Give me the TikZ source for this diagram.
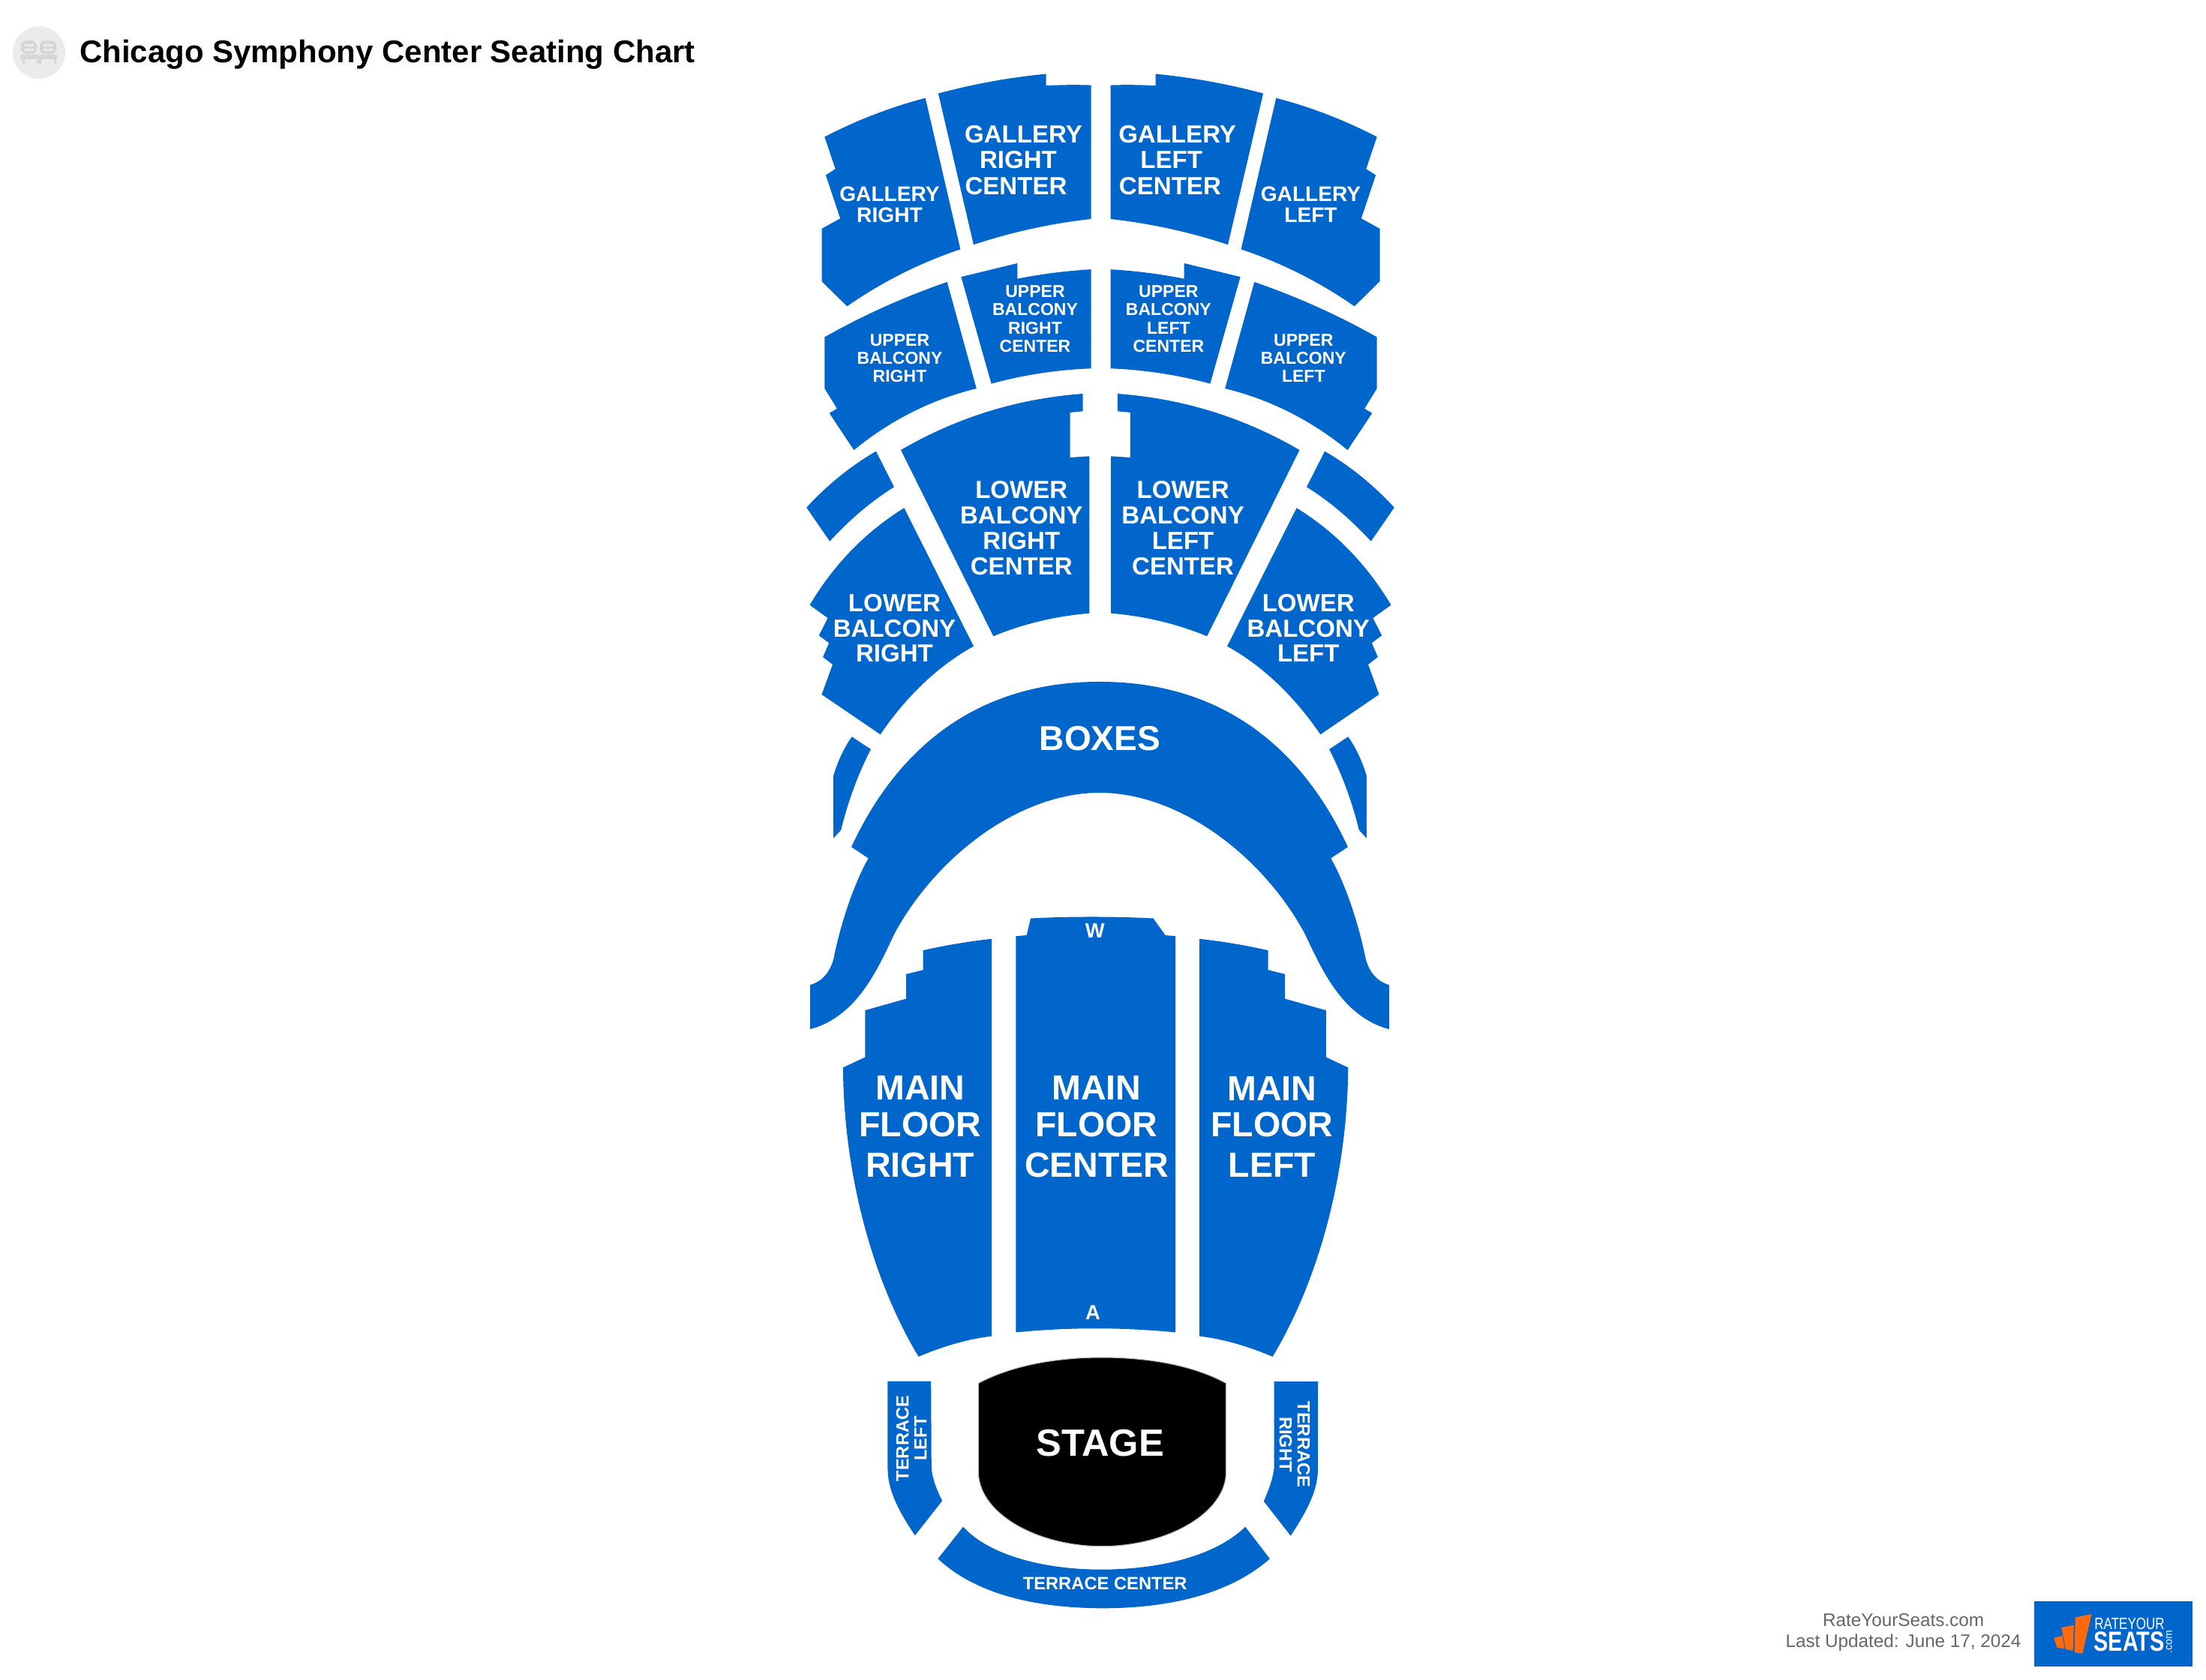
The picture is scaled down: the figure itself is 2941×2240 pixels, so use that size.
\documentclass[tikz,border=0pt]{standalone}
\usepackage{fontspec}
\setmainfont{Liberation Sans}
\definecolor{seatblue}{HTML}{0066CC}
\definecolor{logoorange}{HTML}{FF6A0D}
\tikzset{
	seat/.style={fill=seatblue},
	lab/.style={text=white,font=\bfseries,align=center,inner sep=0},
	galbig/.style={lab,font=\fontsize{9.4}{9.7}\selectfont\bfseries},
	galsmall/.style={lab,font=\fontsize{8}{8.1}\selectfont\bfseries},
	upper/.style={lab,font=\fontsize{6.55}{6.85}\selectfont\bfseries},
	lower/.style={lab,font=\fontsize{9.4}{9.6}\selectfont\bfseries},
	mainfl/.style={lab,font=\fontsize{13.25}{13.7}\selectfont\bfseries},
	terr/.style={lab,font=\fontsize{6.75}{6.85}\selectfont\bfseries},
	row/.style={lab,font=\fontsize{7.8}{8}\selectfont\bfseries},
}
% one side of the hall and its mirror image
\newcommand{\twin}[2]{\fill[seat] #2;
	\begin{scope}[shift={(#1,0)},xscale=-1]\fill[seat] #2;\end{scope}}
\begin{document}
\begin{tikzpicture}[x=0.01cm,y=-0.01cm]
	\useasboundingbox (0,0) rectangle (2941,2240);
	% heading
	\fill[gray!16] (52,70) circle (35);
	\fill[gray!32,rounded corners=2] (28,54) rectangle (49,72) (53,54) rectangle (75,72);
	\fill[gray!32] (27,73) rectangle (52,79) (52,73) rectangle (76,79) (30,79) rectangle (33,85) (49,79) rectangle (52,85) (52,79) rectangle (55,85) (72,79) rectangle (75,85);
	\fill[gray!16] (33,59) rectangle (45,62) (33,65) rectangle (45,68) (58,59) rectangle (70,62) (58,65) rectangle (70,68);
	\node[anchor=base west,inner sep=0,font=\fontsize{11.93}{12}\selectfont\bfseries] (title) at (105.5,83.3) {Chicago Symphony Center Seating Chart};
	% gallery
	\twin{2935}{(1250.9,124.6) .. controls (1298.3,111.9) and (1346.2,103.2) .. (1394.5,98.6) -- (1394.5,114.3) .. controls (1414.2,113.1) and (1434.2,112.9) .. (1454.5,113.6) -- (1454.5,292) .. controls (1400.8,298) and (1348.7,309.4) .. (1298,326.3) -- cycle}
	\twin{2935}{(1233.7,130.7) .. controls (1187,142.9) and (1142.2,160.3) .. (1099.3,182.5) -- (1113.7,225.3) -- (1100.9,233.5) -- (1120.2,291.3) -- (1095.5,304.9) -- (1095.5,375.2) -- (1129.3,408.4) .. controls (1176.1,375.8) and (1226.4,350.5) .. (1280.4,332.4) -- cycle}
	% upper balcony
	\twin{2935}{(1281.4,369.2) -- (1356.4,351) -- (1356.4,371.7) .. controls (1388.8,365.2) and (1421.8,361.1) .. (1454.5,359.2) -- (1454.5,491.3) .. controls (1408.8,493.1) and (1364.6,499.9) .. (1321.6,511.6) -- cycle}
	\twin{2935}{(1262.7,376) .. controls (1204.9,396) and (1150.5,420.5) .. (1099.3,449.5) -- (1099.3,518) -- (1115.9,544.8) -- (1105.7,550.9) -- (1138.4,600.1) .. controls (1187.5,560) and (1241.9,532.7) .. (1301.8,518) -- cycle}
	% lower balcony
	\twin{2933.5}{(1201,600) .. controls (1276,556.4) and (1357,531.3) .. (1443.7,525) -- (1443.7,548.3) -- (1426.6,550) -- (1426.6,610) -- (1452.3,608.3) -- (1452.3,817.7) .. controls (1407.4,821.6) and (1365.2,831.5) .. (1324.3,848.3) -- cycle}
	\twin{2934}{(1167.9,601.7) .. controls (1134.5,621) and (1103.5,646.1) .. (1075.2,676.7) -- (1106.2,721.7) .. controls (1129.4,696.9) and (1155.1,672.6) .. (1192,649.3) -- cycle}
	\twin{2934}{(1205.4,677.3) .. controls (1154.4,708.8) and (1112,752) .. (1079.5,806.7) -- (1103.6,824) -- (1091.8,847.3) -- (1105.2,857.3) -- (1097.1,876) -- (1110,886) -- (1095.5,926) -- (1173.7,979.3) .. controls (1207,930) and (1250,888) .. (1298,861.7) -- cycle}
	\twin{2933}{(1135.7,982.3) -- (1160.9,999) .. controls (1143.6,1033) and (1130.4,1069) .. (1121.2,1106.7) -- (1111.1,1117.7) -- (1111.1,1034.3) .. controls (1117,1014.8) and (1125.2,997.1) .. (1135.7,982.3) -- cycle}
	% boxes
	\fill[seat] (1135,1129.3) .. controls (1195,1000) and (1300,909) .. (1466,909) .. controls (1632,909) and (1737,1000) .. (1797,1129.3) -- (1774.3,1144.3) .. controls (1797,1185) and (1813,1240) .. (1820.3,1276.7) .. controls (1825,1297) and (1837,1309) .. (1852,1313.3) -- (1852,1372.3) .. controls (1787,1355) and (1760,1287) .. (1738.7,1243.3) .. controls (1682,1140) and (1572,1057) .. (1466,1057) .. controls (1360,1057) and (1250,1140) .. (1193.3,1243.3) .. controls (1172,1287) and (1145,1355) .. (1080,1372.3) -- (1080,1313.3) .. controls (1095,1309) and (1107,1297) .. (1111.7,1276.7) .. controls (1119,1240) and (1135,1185) .. (1157.7,1144.3) -- cycle;
	% main floor
	\fill[seat] (1354.3,1248.2) -- (1368.7,1247) -- (1374.1,1224.5) .. controls (1428,1221.8) and (1483,1221.8) .. (1537.5,1224.5) -- (1553.6,1247) -- (1567,1248.2) -- (1567,1776.5) .. controls (1495.6,1769.5) and (1425,1769.5) .. (1354.3,1776.5) -- cycle;
	\twin{2921.2}{(1322.1,1251.8) .. controls (1290.7,1255.3) and (1260.2,1260.4) .. (1230.5,1267.2) -- (1230.5,1293.3) -- (1208,1298.9) -- (1208,1331.7) -- (1153.4,1347.1) -- (1153.4,1409.6) -- (1123.9,1423.4) .. controls (1125,1570) and (1165,1710) .. (1224.6,1808.9) .. controls (1259,1794.3) and (1291.4,1785.2) .. (1322.1,1781.6) -- cycle}
	% stage and terrace
	\fill[black,draw=gray!60,line width=0.3pt] (1304.5,1844.3) .. controls (1350,1820) and (1410,1810) .. (1469,1810) .. controls (1530,1810) and (1590,1820) .. (1634.5,1844.3) -- (1634.5,1966) .. controls (1631,2020) and (1553,2061.7) .. (1469,2061.7) .. controls (1385,2061.7) and (1308,2020) .. (1304.5,1966) -- cycle;
	\fill[seat] (1183.4,1841.7) -- (1241.2,1841.7) -- (1241.8,1956.7) .. controls (1242.6,1968.9) and (1247.3,1983.7) .. (1256.2,2001) -- (1219.8,2047.3) .. controls (1195,2010) and (1183.4,1985) .. (1183.4,1956.7) -- cycle;
	\fill[seat] (1698.7,1842) -- (1757.1,1842) -- (1757.1,1956.7) .. controls (1757.1,1985) and (1745.5,2010) .. (1720.7,2047.7) -- (1684.8,2001.7) .. controls (1692.5,1984) and (1697.5,1969) .. (1698.7,1956.7) -- cycle;
	\fill[seat] (1284.1,2035.7) .. controls (1320,2075) and (1395,2092.7) .. (1467.8,2092.7) .. controls (1545,2092.7) and (1620,2075) .. (1660.2,2035.7) -- (1692.9,2078.3) .. controls (1640,2125) and (1560,2144.3) .. (1470.5,2144.3) .. controls (1380,2144.3) and (1300,2125) .. (1250.4,2078.3) -- cycle;
	% labels
	\node[galbig] (grc) at (1364.5,213.6) {GALLERY\\RIGHT\hspace*{4pt}\mbox{}\\CENTER\hspace*{5.7pt}\mbox{}};
	\node[galbig] (glc) at (1569.6,213.6) {GALLERY\\LEFT\hspace*{4.5pt}\mbox{}\\CENTER\hspace*{5.5pt}\mbox{}};
	\node[galsmall] (gr) at (1186,272.8) {GALLERY\\RIGHT};
	\node[galsmall] (gl) at (1747.5,272.8) {GALLERY\\LEFT};
	\node[upper] (urc) at (1380,425.2) {UPPER\\BALCONY\\RIGHT\\CENTER};
	\node[upper] (ulc) at (1557.9,425.2) {UPPER\\BALCONY\\LEFT\\CENTER};
	\node[upper] (ur) at (1199.5,477.3) {UPPER\\BALCONY\\RIGHT};
	\node[upper] (ul) at (1737.8,477.3) {UPPER\\BALCONY\\LEFT};
	\node[lower] (lrc) at (1361.8,704) {LOWER\\BALCONY\\RIGHT\\CENTER};
	\node[lower] (llc) at (1577.1,704) {LOWER\\BALCONY\\LEFT\\CENTER};
	\node[lower] (lr) at (1192.5,837.7) {LOWER\\BALCONY\\RIGHT};
	\node[lower] (ll) at (1744.3,837.7) {LOWER\\BALCONY\\LEFT};
	\node[lab,font=\fontsize{13.1}{14}\selectfont\bfseries] (boxes) at (1466.5,984.7) {BOXES};
	\node[mainfl] (mfr) at (1226.8,1502.5) {MAIN\\FLOOR\\[1.85pt]RIGHT};
	\node[mainfl] (mfc) at (1462,1502.5) {MAIN\\FLOOR\\[1.85pt]CENTER};
	\node[mainfl] (mfl) at (1696,1502.5) {MAIN\\FLOOR\\[1.85pt]LEFT};
	\node[row] (rowW) at (1459.8,1241.5) {W};
	\node[row] (rowA) at (1457,1750.4) {A};
	\node[lab,font=\fontsize{14.4}{15}\selectfont\bfseries] (stage) at (1466.8,1924) {STAGE};
	\node[terr,rotate=90] (tl) at (1215,1918) {TERRACE\\LEFT};
	\node[terr,rotate=-90] (tr) at (1726,1926) {TERRACE\\RIGHT};
	\node[terr] (tc) at (1473.2,2111.7) {TERRACE CENTER};
	% footer
	\node[inner sep=0,align=center,text=black!60,font=\fontsize{6.9}{7.7}\selectfont] (upd) at (2537.5,2176.5) {RateYourSeats.com\\Last Updated: June 17, 2024};
	\fill[seat] (2712.4,2134.5) rectangle (2922.8,2222);
	\fill[logoorange] (2738,2184) -- (2749.5,2181) -- (2752.5,2198.3) -- (2742.6,2196.7) -- cycle;
	\fill[logoorange] (2748.3,2170) -- (2764.8,2166.7) -- (2763.6,2200.7) -- (2754,2199.3) -- cycle;
	\fill[logoorange] (2766.7,2156.7) -- (2788.5,2152) -- (2776.3,2204.7) -- (2765.6,2203.3) -- cycle;
	\node[inner sep=0,text=white,xscale=.78,font=\fontsize{6.2}{7}\selectfont] (logoa) at (2839,2164.5) {RATEYOUR};
	\node[lab,xscale=.78,font=\fontsize{10.5}{11}\selectfont\bfseries] (logob) at (2838.6,2188.5) {SEATS};
	\node[inner sep=0,text=white,rotate=90,font=\fontsize{4}{5}\selectfont] (logoc) at (2892,2189.5) {.com};
\end{tikzpicture}
\end{document}
